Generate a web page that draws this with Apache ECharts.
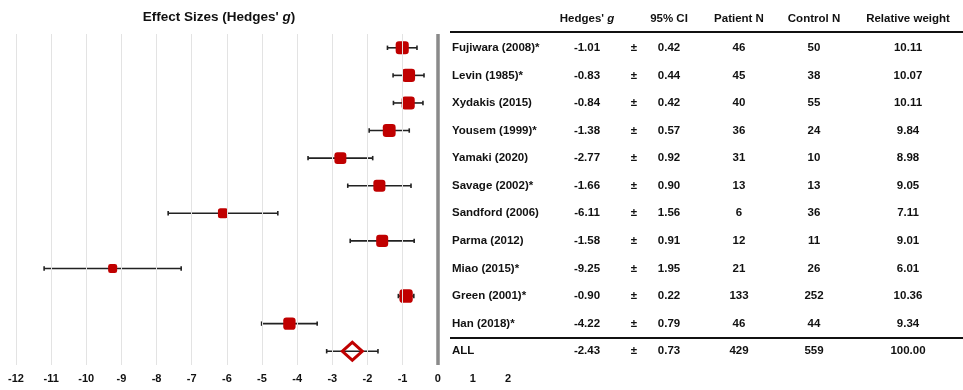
<!DOCTYPE html>
<html><head><meta charset="utf-8">
<script src="https://cdn.jsdelivr.net/npm/echarts@6/dist/echarts.min.js"></script>
<style>html,body{margin:0;padding:0;background:#fff}#c{width:963px;height:390px}</style>
</head><body><div id="c"></div>
<script>
const studies = ['Fujiwara (2008)*','Levin (1985)*','Xydakis (2015)','Yousem (1999)*','Yamaki (2020)','Savage (2002)*','Sandford (2006)','Parma (2012)','Miao (2015)*','Green (2001)*','Han (2018)*','ALL'];
const hedgesG = [-1.01,-0.83,-0.84,-1.38,-2.77,-1.66,-6.11,-1.58,-9.25,-0.90,-4.22,-2.43];
const ci95 = [0.42,0.44,0.42,0.57,0.92,0.90,1.56,0.91,1.95,0.22,0.79,0.73];
const patientN = [46,45,40,36,31,13,6,12,21,133,46,429];
const controlN = [50,38,55,24,10,13,36,11,26,252,44,559];
const relWeight = [10.11,10.07,10.11,9.84,8.98,9.05,7.11,9.01,6.01,10.36,9.34,100.00];
const xTicks = [-12,-11,-10,-9,-8,-7,-6,-5,-4,-3,-2,-1,0,1,2];
const gridTicks = [-12,-11,-10,-9,-8,-7,-6,-5,-4,-3,-2,-1];

const FONT = 'Liberation Sans, Arial, sans-serif';
const TXT = '#111';
const RED = '#c00000';
const nStudies = studies.length - 1;
const HEADER_Y = -1.05;

const chart = echarts.init(document.getElementById('c'), null, {renderer: 'canvas'});

function textCol(xPos, vals, align, header) {
  const data = vals.map((v, i) => ({value: [xPos, i], label: {formatter: String(v)}}));
  if (header) data.push({value: [xPos, HEADER_Y], label: {formatter: header}});
  return {
    type: 'scatter', xAxisIndex: 1, yAxisIndex: 1, clip: false, silent: true,
    symbolSize: 1, itemStyle: {color: 'rgba(0,0,0,0)', opacity: 1},
    label: {show: true, position: 'inside', align: align, color: TXT, fontFamily: FONT,
      fontWeight: 'bold', fontSize: 11.5, opacity: 1,
      rich: {i: {fontStyle: 'italic', fontWeight: 'bold', fontSize: 11.5, fontFamily: FONT, color: TXT}}},
    data: data, z: 5
  };
}

const option = {
  animation: false,
  backgroundColor: '#fff',
  title: {
    text: "Effect Sizes (Hedges' {i|g})", left: 214, top: 5, textAlign: 'center',
    textStyle: {fontFamily: FONT, fontWeight: 'bold', fontSize: 13.5, color: TXT,
      rich: {i: {fontFamily: FONT, fontWeight: 'bold', fontStyle: 'italic', fontSize: 13.5, color: TXT}}}
  },
  grid: [
    {left: 16, right: 455, top: 34, bottom: 25},
    {left: 440, right: 0, top: 6.42, bottom: 25}
  ],
  xAxis: [
    {type: 'value', gridIndex: 0, min: -12, max: 2, interval: 1,
      axisLine: {show: false}, axisTick: {show: false}, splitLine: {show: false},
      axisLabel: {color: TXT, fontFamily: FONT, fontWeight: 'bold', fontSize: 11, margin: 8,
        customValues: xTicks}},
    {type: 'value', gridIndex: 1, min: 440, max: 963, show: false}
  ],
  yAxis: [
    {type: 'category', gridIndex: 0, data: studies, inverse: true, show: false},
    {type: 'value', gridIndex: 1, min: -1.5, max: 11.5, inverse: true, show: false}
  ],
  series: [
    {type: 'line', xAxisIndex: 0, yAxisIndex: 0, data: [], silent: true, z: 1,
      markLine: {silent: true, symbol: 'none', label: {show: false},
        lineStyle: {color: '#e3e3e3', width: 1, type: 'solid'},
        data: gridTicks.map(v => ({xAxis: v}))}},
    {type: 'line', xAxisIndex: 0, yAxisIndex: 0, data: [], silent: true, z: 2,
      markLine: {silent: true, symbol: 'none', label: {show: false},
        lineStyle: {color: '#8a8a8a', width: 3.5, type: 'solid'},
        data: [{xAxis: 0}]}},
    {type: 'custom', xAxisIndex: 0, yAxisIndex: 0, z: 3, silent: true,
      data: hedgesG.map((v, i) => [v - ci95[i], v + ci95[i], i]),
      encode: {x: [0, 1], y: 2},
      renderItem: function (params, api) {
        const a = api.coord([api.value(0), api.value(2)]);
        const b = api.coord([api.value(1), api.value(2)]);
        const st = {stroke: '#222', lineWidth: 1.6};
        const cap = 2.2;
        return {type: 'group', children: [
          {type: 'line', shape: {x1: a[0], y1: a[1], x2: b[0], y2: b[1]}, style: st},
          {type: 'line', shape: {x1: a[0], y1: a[1] - cap, x2: a[0], y2: a[1] + cap}, style: st},
          {type: 'line', shape: {x1: b[0], y1: b[1] - cap, x2: b[0], y2: b[1] + cap}, style: st}
        ]};
      }},
    {type: 'scatter', xAxisIndex: 0, yAxisIndex: 0, z: 4, silent: true,
      symbol: 'roundRect',
      data: hedgesG.slice(0, nStudies).map((v, i) => ({value: [v, i], symbolSize: relWeight[i] + 3})),
      itemStyle: {color: RED, opacity: 1}},
    {type: 'scatter', xAxisIndex: 0, yAxisIndex: 0, z: 4, silent: true,
      symbol: 'diamond', symbolSize: [20, 18],
      data: [[hedgesG[nStudies], nStudies]],
      itemStyle: {color: 'rgba(255,255,255,0)', borderColor: RED, borderWidth: 3, opacity: 1}},
    {type: 'line', xAxisIndex: 1, yAxisIndex: 1, data: [], silent: true, z: 5,
      markLine: {silent: true, symbol: 'none', label: {show: false},
        lineStyle: {color: '#111', width: 2, type: 'solid'},
        data: [
          [{coord: [450, -0.57]}, {coord: [963, -0.57]}],
          [{coord: [450, 10.5]}, {coord: [963, 10.5]}]
        ]}},
    textCol(452, studies, 'left', null),
    textCol(587, hedgesG.map(v => v.toFixed(2)), 'center', "Hedges' {i|g}"),
    textCol(634, hedgesG.map(() => '±'), 'center', null),
    textCol(669, ci95.map(v => v.toFixed(2)), 'center', '95% CI'),
    textCol(739, patientN, 'center', 'Patient N'),
    textCol(814, controlN, 'center', 'Control N'),
    textCol(908, relWeight.map(v => v.toFixed(2)), 'center', 'Relative weight')
  ]
};
chart.setOption(option);
</script>
</body></html>
